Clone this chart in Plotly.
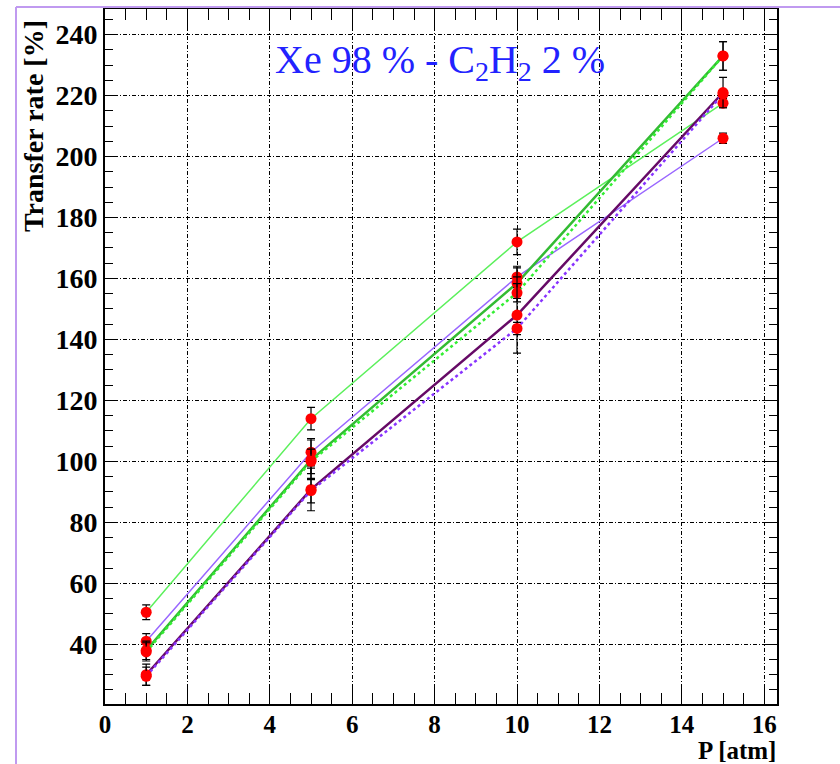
import plotly.graph_objects as go

# Pressure points (atm)
pressure = [1, 5, 10, 15]

# Transfer rate (%) and its uncertainty for each measurement series
rate_light_green = [50.5, 114.0, 172.0, 217.5]
err_light_green = [2.4, 3.7, 4.2, 1.5]

rate_light_purple = [41.0, 103.0, 160.5, 206.0]
err_light_purple = [2.5, 4.5, 3.5, 1.7]

rate_green = [38.0, 100.5, 158.5, 233.0]
err_green = [3.0, 6.5, 5.0, 4.7]

rate_green_dash = [37.5, 100.0, 155.3, 233.0]
err_green_dash = [3.0, 4.0, 3.0, 4.7]

rate_dark_purple = [30.0, 90.8, 148.0, 221.0]
err_dark_purple = [3.5, 7.0, 12.5, 5.0]

rate_purple_dash = [29.5, 90.4, 143.6, 220.5]
err_purple_dash = [3.0, 4.0, 2.0, 1.0]

x_ticks = list(range(0, 17, 2))
y_ticks = list(range(40, 241, 20))

series = [
    (rate_light_green, err_light_green, "#5cf05c", 1.5, "solid"),
    (rate_light_purple, err_light_purple, "#9966ff", 1.5, "solid"),
    (rate_green, err_green, "#33bb33", 2.5, "solid"),
    (rate_green_dash, err_green_dash, "#33ee33", 2.5, "3px,3px"),
    (rate_dark_purple, err_dark_purple, "#660a66", 2.5, "solid"),
    (rate_purple_dash, err_purple_dash, "#8833ff", 2.5, "3px,3px"),
]

fig = go.Figure()

# connecting lines first
for vals, errs, color, width, dash in series:
    fig.add_trace(go.Scatter(
        x=pressure, y=vals, mode="lines",
        line=dict(color=color, width=width, dash=dash),
        showlegend=False, hoverinfo="skip",
    ))

# measured points with error bars on top
for vals, errs, color, width, dash in series:
    fig.add_trace(go.Scatter(
        x=pressure, y=vals, mode="markers",
        marker=dict(color="#ff0000", size=11, line=dict(width=0)),
        error_y=dict(type="data", array=errs, visible=True,
                     color="black", thickness=1.2, width=4),
        showlegend=False,
    ))

W, H = 840, 764
L, R, T, B = 105, 63, 7, 60
pw, ph = W - L - R, H - T - B


def px(xp):
    return (xp - L) / pw


def py(yp):
    return (H - B - yp) / ph


x_tick_font = dict(family="Liberation Serif", size=25, color="black", weight="bold")
y_tick_font = dict(family="Liberation Serif", size=28, color="black", weight="bold")

fig.update_layout(
    width=W, height=H,
    margin=dict(l=L, r=R, t=T, b=B, pad=0),
    paper_bgcolor="white", plot_bgcolor="white",
    xaxis=dict(
        range=[0, 16.31], tickvals=x_ticks, ticktext=[str(v) for v in x_ticks],
        ticks="inside", ticklen=20, tickwidth=1.2, tickcolor="black",
        showline=True, linecolor="black", linewidth=2, mirror="allticks",
        showgrid=True, gridcolor="black", gridwidth=1, griddash="4px,2px,1px,2px",
        zeroline=False, tickfont=x_tick_font, ticklabelstandoff=-3,
        minor=dict(dtick=0.5, tick0=0, ticks="inside", ticklen=11,
                   tickcolor="black", tickwidth=1.2, showgrid=False),
    ),
    yaxis=dict(
        range=[20.4, 248.4], tickvals=y_ticks, ticktext=[str(v) for v in y_ticks],
        ticks="inside", ticklen=13, tickwidth=1.2, tickcolor="black",
        showline=True, linecolor="black", linewidth=2, mirror="allticks",
        showgrid=True, gridcolor="black", gridwidth=1, griddash="4px,2px,1px,2px",
        zeroline=False, tickfont=y_tick_font,
        minor=dict(dtick=5, tick0=0, ticks="inside", ticklen=8,
                   tickcolor="black", tickwidth=1.2, showgrid=False),
    ),
    annotations=[
        dict(text="Xe 98 % - C<sub>2</sub>H<sub>2</sub> 2 %",
             xref="paper", yref="paper", x=px(440), y=py(60),
             xanchor="center", yanchor="middle", showarrow=False,
             font=dict(family="Liberation Serif", size=40, color="#2222ff")),
        dict(text="Transfer rate [%]", textangle=-90,
             xref="paper", yref="paper", x=px(34), y=py(16),
             xanchor="center", yanchor="top", showarrow=False,
             font=dict(family="Liberation Serif", size=28, color="black", weight="bold")),
        dict(text="P [atm]", borderpad=0,
             xref="paper", yref="paper", x=px(777), y=py(751),
             xanchor="right", yanchor="middle", showarrow=False,
             font=dict(family="Liberation Serif", size=25, color="black", weight="bold")),
    ],
    shapes=[
        dict(type="line", xref="paper", yref="paper",
             x0=px(16), x1=px(16), y0=py(5), y1=py(770),
             line=dict(color="#c09af0", width=2)),
        dict(type="line", xref="paper", yref="paper",
             x0=px(16), x1=px(842), y0=py(5), y1=py(5),
             line=dict(color="#c09af0", width=2)),
    ],
)

fig.write_html("out.html")
